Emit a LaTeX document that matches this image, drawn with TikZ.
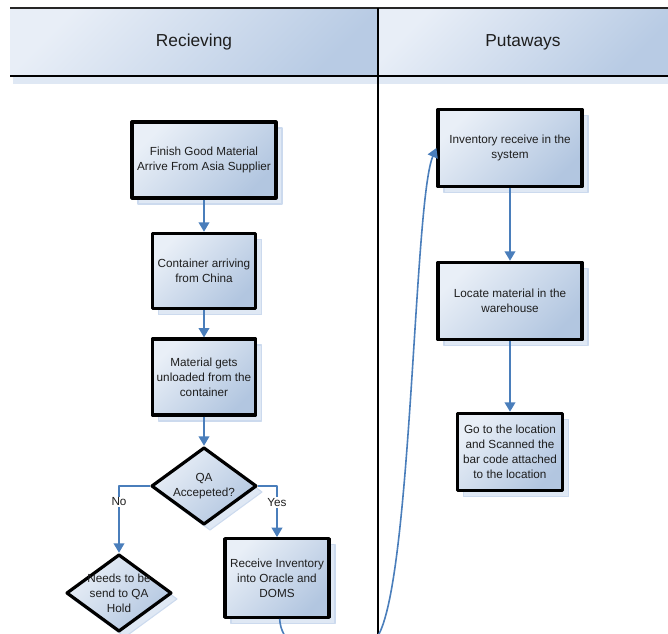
\documentclass[tikz,border=0pt]{standalone}
\usepackage{fontspec}
\setmainfont{Liberation Sans}
\usetikzlibrary{arrows.meta,calc,shapes.geometric,shadows}
\definecolor{headlight}{HTML}{E8EEF7}
\definecolor{headdark}{HTML}{B8CBE4}
\definecolor{boxlight}{HTML}{E9EFF7}
\definecolor{boxdark}{HTML}{B2C6E0}
\definecolor{shadowblue}{HTML}{DFE8F4}
\definecolor{shadowedge}{HTML}{CCDAEE}
\definecolor{flowblue}{HTML}{4A7EBB}
\definecolor{txtgray}{HTML}{1E1E1E}
\newcommand\boxfont{\fontsize{8.8}{11.2}\selectfont}
\newcommand \mydrawlane[4]  % name, left x, right x, title
{
\shade[top color=headlight,bottom color=headdark,shading angle=45] (#2,8) rectangle (#3,76);
\node[font=\fontsize{13}{15}\selectfont,text=txtgray] (#1) at ({(#2+#3)/2},42) {#4};
}

\begin{document}
\begin{tikzpicture}[x=0.75pt,y=-0.75pt, line join=round,
  procbox/.style={rectangle, draw=black, line width=2.4pt, top color=boxlight, bottom color=boxdark,
    shading angle=45, inner sep=0pt, align=center, font=\boxfont, text=txtgray,
    general shadow={fill=shadowblue, draw=shadowedge, line width=0.8pt, shadow xshift=4.5pt, shadow yshift=-4.5pt}},
  decision/.style={procbox, diamond, minimum width=79pt, minimum height=58pt},
  boxtext/.style={align=center, font=\boxfont, text=txtgray},
  flow/.style={draw=flowblue, line width=1.2pt, -{Triangle[length=7pt,width=8pt]}},
  answer/.style={font=\boxfont, text=txtgray, fill=white, inner sep=1pt}]
\useasboundingbox (0,0) rectangle (668,634);
\clip (0,0) rectangle (668,634);
% lane headers
\mydrawlane{recv}{10}{378}{Recieving}
\mydrawlane{puta}{378}{668}{Putaways}
\fill[shadowblue] (13,77) rectangle (668,84);
\draw[line width=0.9pt,black!85] (10,8) -- (668,8);
\draw[line width=2.2pt] (10,76) -- (668,76);
\draw[line width=2.2pt] (378,8) -- (378,640);
% receiving lane
\node[procbox,minimum width=108pt,minimum height=57pt] (fin) at (204,160) {Finish Good Material\\Arrive From Asia Supplier};
\node[procbox,minimum width=77.5pt,minimum height=56.5pt] (cont) at (204,271) {Container arriving\\from China};
\node[procbox,minimum width=77.5pt,minimum height=57pt] (unload) at (204,377) {Material gets\\unloaded from the\\container};
\node[decision,label={[boxtext]center:QA\\Accepeted?}] (qa) at (204,486) {};
\node[decision,label={[boxtext]center:Needs to be\\send to QA\\Hold}] (hold) at (119,593) {};
\node[procbox,minimum width=78pt,minimum height=59pt] (rcv) at (277,578) {Receive Inventory\\into Oracle and\\DOMS};
% putaways lane
\node[procbox,minimum width=108pt,minimum height=58pt] (inv) at (510,148) {Inventory receive in the\\system};
\node[procbox,minimum width=108pt,minimum height=58pt] (locate) at (510,301) {Locate material in the\\warehouse};
\node[procbox,minimum width=79pt,minimum height=58pt] (goloc) at (510,452) {Go to the location\\and Scanned the\\bar code attached\\to the location};
% connectors
\draw[flow] (fin) -- (cont);
\draw[flow] (cont) -- (unload);
\draw[flow] (unload) -- (qa);
\draw[flow] (qa.west) -| node[answer,pos=0.62] {No} (hold.north);
\draw[flow] (qa.east) -| node[answer,pos=0.66] {Yes} (rcv.north);
\draw[flow] (inv) -- (locate);
\draw[flow] (locate) -- (goloc);
\draw[flow] ([xshift=2pt]rcv.south) .. controls (282,665) and (362,668) .. (379,634)
  .. controls (412,570) and (414,200) .. (inv.west);
\end{tikzpicture}
\end{document}
